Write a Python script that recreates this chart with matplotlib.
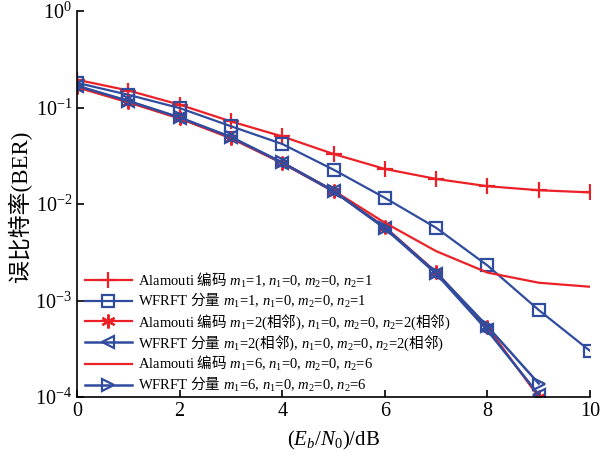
import numpy as np
import matplotlib
matplotlib.use('Agg')
import matplotlib.pyplot as plt

plt.rcParams['font.family'] = ['Liberation Serif', 'Noto Sans CJK SC']
plt.rcParams['mathtext.fontset'] = 'custom'
plt.rcParams['mathtext.rm'] = 'Liberation Serif'
plt.rcParams['mathtext.it'] = 'Liberation Serif:italic'
plt.rcParams['mathtext.sf'] = 'Noto Sans CJK SC'

# Eb/N0 (dB)
snr = np.arange(0, 11)
snr9 = np.arange(0, 10)

# BER values
ber_ala_1 = [0.194, 0.150, 0.107, 0.0718, 0.0502, 0.033, 0.0231, 0.0182, 0.0153, 0.0139, 0.0132]
ber_wf_1 = [0.180, 0.1355, 0.0987, 0.064, 0.0419, 0.0227, 0.0116, 0.00567, 0.00231, 0.000798, 0.000301]
ber_ala_2 = [0.162, 0.113, 0.077, 0.048, 0.0265, 0.0135, 0.0058, 0.00197, 0.00053, 0.000100]
ber_wf_2 = [0.166, 0.116, 0.078, 0.049, 0.0267, 0.0136, 0.0056, 0.00190, 0.00049, 0.000106]
ber_ala_6 = [0.163, 0.114, 0.0775, 0.0485, 0.0268, 0.0138, 0.0064, 0.00325, 0.00195, 0.00153, 0.00139]
ber_wf_6 = [0.168, 0.117, 0.079, 0.0495, 0.027, 0.0137, 0.0057, 0.00195, 0.00054, 0.000138]

# Chinese parts go through \mathsf (mapped to the CJK font), the rest stays serif
labels = [
    r'Alamouti $\mathsf{编码}$ $m_1$=1, $n_1$=0, $m_2$=0, $n_2$=1',
    r'WFRFT $\mathsf{分量}$ $m_1$=1, $n_1$=0, $m_2$=0, $n_2$=1',
    r'Alamouti $\mathsf{编码}$ $m_1$=2($\mathsf{相邻}$), $n_1$=0, $m_2$=0, $n_2$=2($\mathsf{相邻}$)',
    r'WFRFT $\mathsf{分量}$ $m_1$=2($\mathsf{相邻}$), $n_1$=0, $m_2$=0, $n_2$=2($\mathsf{相邻}$)',
    r'Alamouti $\mathsf{编码}$ $m_1$=6, $n_1$=0, $m_2$=0, $n_2$=6',
    r'WFRFT $\mathsf{分量}$ $m_1$=6, $n_1$=0, $m_2$=0, $n_2$=6',
]

red = '#EC2127'
blue = '#2F4C9E'

fig = plt.figure(figsize=(6.14, 4.58), dpi=100)
ax = fig.add_axes([0.1254, 0.133, 0.8356, 0.843])

ax.plot(snr, ber_ala_1, color=red, lw=1.6, marker='+', ms=11, mew=1.6, label=labels[0])
ax.plot(snr, ber_wf_1, color=blue, lw=1.6, marker='s', ms=8, mew=1.6, mfc='none', label=labels[1])
ax.plot(snr9, ber_ala_2, color=red, lw=1.6, marker=(6, 2, 0), ms=10, mew=1.6, label=labels[2])
ax.plot(snr9, ber_wf_2, color=blue, lw=1.8, marker='<', ms=9, mew=1.6, mfc='none', label=labels[3])
ax.plot(snr, ber_ala_6, color=red, lw=1.6, label=labels[4])
ax.plot(snr9, ber_wf_6, color=blue, lw=1.8, marker='>', ms=9, mew=1.6, mfc='none', label=labels[5])

ax.set_yscale('log')
ax.set_xlim(0, 10)
ax.set_ylim(1e-4, 1)
ax.set_xticks([0, 2, 4, 6, 8, 10])
ax.set_yticks([1e-4, 1e-3, 1e-2, 1e-1, 1])
ax.minorticks_off()
ax.tick_params(direction='in', length=5, width=1.2, labelsize=14.5)
ax.spines['top'].set_visible(False)
ax.spines['right'].set_visible(False)
ax.spines['left'].set_linewidth(1.2)
ax.spines['bottom'].set_linewidth(1.2)

ax.set_xlabel('($E_b$/$N_0$)/dB', fontsize=15, labelpad=6)
ax.set_ylabel('误比特率(BER)', fontsize=16.5)
ax.yaxis.set_label_coords(-0.087, 0.495)

leg = ax.legend(loc='lower left', frameon=False, fontsize=10.5, handlelength=3.2,
                labelspacing=0.12, borderaxespad=0.0, handletextpad=0.45,
                bbox_to_anchor=(0.004, -0.008))

fig.savefig('out.png', dpi=100)
